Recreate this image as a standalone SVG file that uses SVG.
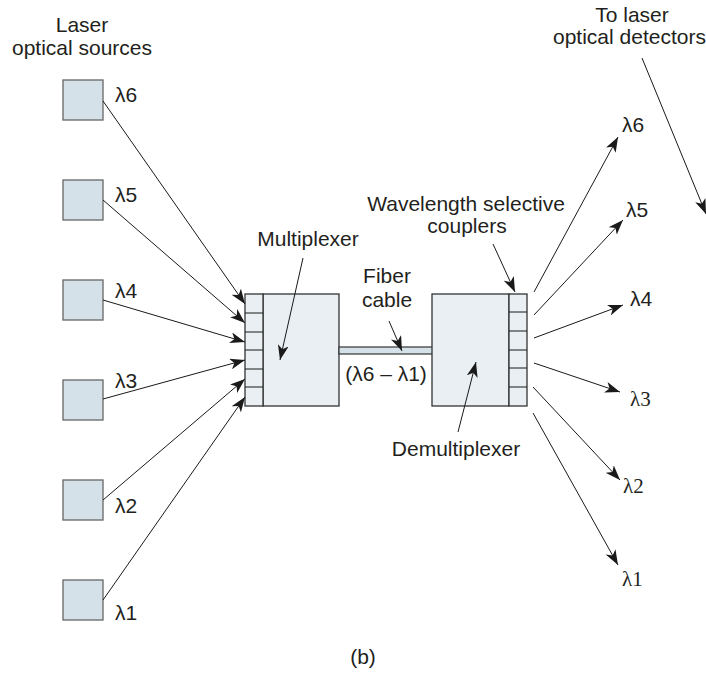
<svg xmlns="http://www.w3.org/2000/svg" width="706" height="674" viewBox="0 0 706 674">
<defs>
<marker id="ah" viewBox="0 0 15 11" refX="15" refY="5.5" markerWidth="15" markerHeight="11" markerUnits="userSpaceOnUse" orient="auto">
<path d="M0,0 L15,5.5 L0,11 L4,5.5 Z" fill="#1a1a1a"/>
</marker>
</defs>
<style>
text{font-family:"Liberation Sans",Arial,sans-serif;font-size:21px;fill:#231f20}
.ser{font-family:"Liberation Serif","Times New Roman",serif;font-size:21px}
.src{fill:#d5e1e8;stroke:#666;stroke-width:1.3}
.box{fill:#e9eff2;stroke:#333;stroke-width:1.3}
.cell{fill:#e9eff2;stroke:#333;stroke-width:1.3}
.ln{stroke:#1a1a1a;stroke-width:1;fill:none}
.arr{stroke:#1a1a1a;stroke-width:1;fill:none;marker-end:url(#ah)}
</style>
<rect width="706" height="674" fill="#fff"/>

<g id="title-sources">
<text x="82" y="32" text-anchor="middle">Laser</text>
<text x="82" y="55" text-anchor="middle">optical sources</text>
</g>
<g id="title-detectors">
<text x="632" y="22" text-anchor="middle">To laser</text>
<text x="553" y="44">optical detectors</text>
</g>

<g id="src6"><rect class="src" x="63" y="80" width="40" height="40"/><text x="115" y="102">λ6</text></g>
<g id="src5"><rect class="src" x="63" y="180" width="40" height="40"/><text x="115" y="202">λ5</text></g>
<g id="src4"><rect class="src" x="63" y="280" width="40" height="40"/><text x="115" y="298">λ4</text></g>
<g id="src3"><rect class="src" x="63" y="380" width="40" height="40"/><text x="115" y="388">λ3</text></g>
<g id="src2"><rect class="src" x="63" y="480" width="40" height="40"/><text x="115" y="513">λ2</text></g>
<g id="src1"><rect class="src" x="63" y="580" width="40" height="40"/><text x="115" y="620">λ1</text></g>

<g id="multiplexer">
<rect class="box" x="263" y="294" width="76" height="112"/>
<rect class="cell" x="245" y="294" width="18" height="112"/>
<path class="ln" d="M245,313H263M245,332H263M245,350H263M245,369H263M245,387H263" stroke-width="1.3"/>
<text x="308" y="246" text-anchor="middle">Multiplexer</text>
</g>

<g id="fiber">
<rect x="339" y="347" width="97" height="7" fill="#d5e1e8" stroke="#333" stroke-width="1.2"/>
<text x="387" y="283" text-anchor="middle">Fiber</text>
<text x="387" y="307" text-anchor="middle">cable</text>
<text x="386" y="381" text-anchor="middle">(λ6 – λ1)</text>
</g>

<g id="demultiplexer">
<rect class="box" x="432" y="294" width="77" height="112"/>
<rect class="cell" x="509" y="294" width="18" height="112"/>
<path class="ln" d="M509,312H527M509,331H527M509,350H527M509,368H527M509,387H527" stroke-width="1.3"/>
<text x="456" y="456" text-anchor="middle">Demultiplexer</text>
<text x="466" y="211" text-anchor="middle">Wavelength selective</text>
<text x="467" y="233" text-anchor="middle">couplers</text>
</g>

<g id="outputs">
<text x="622" y="132">λ6</text>
<text x="626" y="217">λ5</text>
<text x="630" y="306">λ4</text>
<text class="ser" x="630" y="406">λ3</text>
<text class="ser" x="623" y="493">λ2</text>
<text class="ser" x="622" y="586">λ1</text>
</g>

<g id="connectors">
<line class="arr" x1="103" y1="101" x2="245" y2="304"/>
<line class="arr" x1="103" y1="200" x2="245" y2="323"/>
<line class="arr" x1="103" y1="300" x2="245" y2="342"/>
<line class="arr" x1="103" y1="399" x2="245" y2="360"/>
<line class="arr" x1="103" y1="500" x2="245" y2="379"/>
<line class="arr" x1="103" y1="600" x2="245" y2="397"/>
<line class="arr" x1="303" y1="258" x2="280" y2="360"/>
<line class="arr" x1="389" y1="321" x2="402" y2="351"/>
<line class="arr" x1="493" y1="244" x2="515" y2="292"/>
<line class="arr" x1="458" y1="432" x2="476" y2="362"/>
<line class="arr" x1="534" y1="292" x2="618" y2="137"/>
<line class="arr" x1="534" y1="315" x2="623" y2="220"/>
<line class="arr" x1="534" y1="338" x2="623" y2="305"/>
<line class="arr" x1="534" y1="363" x2="620" y2="392"/>
<line class="arr" x1="533" y1="387" x2="620" y2="480"/>
<line class="arr" x1="533" y1="413" x2="618" y2="565"/>
<line class="arr" x1="642" y1="58" x2="706" y2="214"/>
</g>

<text x="363" y="664" text-anchor="middle">(b)</text>
</svg>
